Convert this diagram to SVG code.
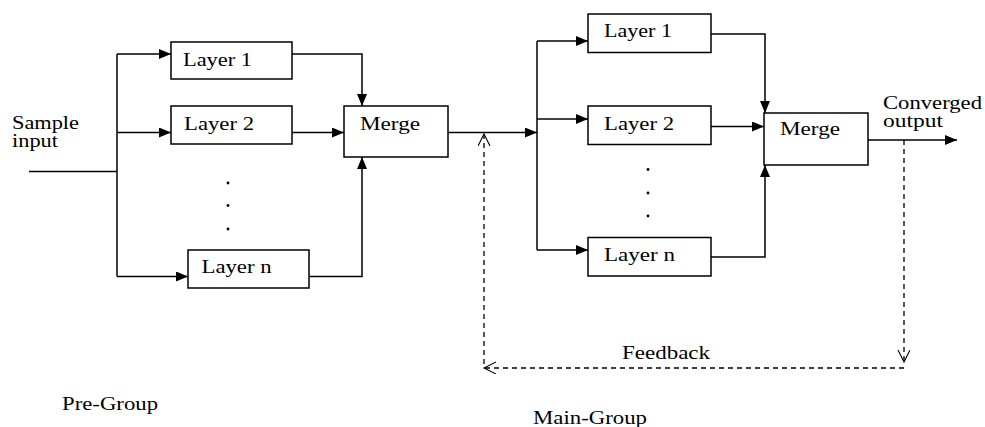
<svg xmlns="http://www.w3.org/2000/svg" width="985" height="427" viewBox="0 0 985 427">
<defs>
<marker id="fa" markerUnits="userSpaceOnUse" markerWidth="13" markerHeight="11" refX="12" refY="5" orient="auto">
<path d="M0,0 L12,5 L0,10 z" fill="#000"/>
</marker>
<marker id="oa" markerUnits="userSpaceOnUse" markerWidth="14" markerHeight="14" refX="12" refY="6" orient="auto">
<path d="M0,0 L12,6 L0,12" fill="none" stroke="#000" stroke-width="1.1"/>
</marker>
</defs>
<style>
.box{fill:#fff;stroke:#000;stroke-width:1.5}
.ln{fill:none;stroke:#000;stroke-width:1.5}
.dash{fill:none;stroke:#000;stroke-width:1.3;stroke-dasharray:5 4}
.t{font-family:"Liberation Serif","Times New Roman",serif;font-size:18px;fill:#000}
.dot{fill:#000}
</style>
<rect width="985" height="427" fill="#fff"/>
<g id="connectors">
<path class="ln" d="M29,171.5 H117"/>
<path class="ln" d="M117,54 V276.5"/>
<path class="ln" d="M117,54 H171" marker-end="url(#fa)"/>
<path class="ln" d="M117,132.5 H171" marker-end="url(#fa)"/>
<path class="ln" d="M117,276.5 H188" marker-end="url(#fa)"/>
<path class="ln" d="M292,54 H362 V106" marker-end="url(#fa)"/>
<path class="ln" d="M292,132.5 H344" marker-end="url(#fa)"/>
<path class="ln" d="M309,276.5 H362 V157" marker-end="url(#fa)"/>
<path class="ln" d="M448,132.5 H537" marker-end="url(#fa)"/>
<path class="ln" d="M537,41 V250"/>
<path class="ln" d="M537,41 H588" marker-end="url(#fa)"/>
<path class="ln" d="M537,119 H588" marker-end="url(#fa)"/>
<path class="ln" d="M537,250 H588" marker-end="url(#fa)"/>
<path class="ln" d="M711,34 H765 V113" marker-end="url(#fa)"/>
<path class="ln" d="M711,126.5 H764" marker-end="url(#fa)"/>
<path class="ln" d="M711,257 H765 V165" marker-end="url(#fa)"/>
<path class="ln" d="M868,140 H957" marker-end="url(#fa)"/>
<path class="dash" d="M904,140 V362" marker-end="url(#oa)"/>
<path class="dash" d="M904,368 H484" marker-end="url(#oa)"/>
<path class="dash" d="M484,364 V134" marker-end="url(#oa)"/>
</g>
<g id="pre-layer1"><rect class="box" x="171" y="42" width="121" height="37"/><text class="t" x="183" y="66" textLength="69" lengthAdjust="spacingAndGlyphs">Layer 1</text></g>
<g id="pre-layer2"><rect class="box" x="171" y="106" width="121" height="38"/><text class="t" x="184" y="129.5" textLength="70" lengthAdjust="spacingAndGlyphs">Layer 2</text></g>
<g id="pre-dots"><circle class="dot" cx="228" cy="183" r="1.4"/><circle class="dot" cx="228" cy="205.5" r="1.4"/><circle class="dot" cx="228" cy="229" r="1.4"/></g>
<g id="pre-layern"><rect class="box" x="188" y="250" width="121" height="38"/><text class="t" x="201.5" y="273" textLength="70" lengthAdjust="spacingAndGlyphs">Layer n</text></g>
<g id="pre-merge"><rect class="box" x="344" y="106" width="104" height="51"/><text class="t" x="360" y="129.5" textLength="60" lengthAdjust="spacingAndGlyphs">Merge</text></g>
<g id="main-layer1"><rect class="box" x="588" y="14" width="123" height="38.5"/><text class="t" x="604" y="37" textLength="68" lengthAdjust="spacingAndGlyphs">Layer 1</text></g>
<g id="main-layer2"><rect class="box" x="588" y="106" width="123" height="38.5"/><text class="t" x="604" y="130" textLength="70" lengthAdjust="spacingAndGlyphs">Layer 2</text></g>
<g id="main-dots"><circle class="dot" cx="648" cy="169.5" r="1.4"/><circle class="dot" cx="648" cy="193" r="1.4"/><circle class="dot" cx="648" cy="216" r="1.4"/></g>
<g id="main-layern"><rect class="box" x="588" y="237.5" width="123" height="38.5"/><text class="t" x="604" y="260.5" textLength="71" lengthAdjust="spacingAndGlyphs">Layer n</text></g>
<g id="main-merge"><rect class="box" x="764" y="113" width="104" height="52"/><text class="t" x="780" y="135" textLength="60" lengthAdjust="spacingAndGlyphs">Merge</text></g>
<g id="labels">
<text class="t" x="12" y="128.5" textLength="67" lengthAdjust="spacingAndGlyphs">Sample</text>
<text class="t" x="12" y="147" textLength="46" lengthAdjust="spacingAndGlyphs">input</text>
<text class="t" x="883" y="108.5" textLength="99" lengthAdjust="spacingAndGlyphs">Converged</text>
<text class="t" x="883" y="127" textLength="60" lengthAdjust="spacingAndGlyphs">output</text>
<text class="t" x="622" y="359" textLength="88" lengthAdjust="spacingAndGlyphs">Feedback</text>
<text class="t" x="62" y="410" textLength="96" lengthAdjust="spacingAndGlyphs">Pre-Group</text>
<text class="t" x="533" y="424" textLength="114" lengthAdjust="spacingAndGlyphs">Main-Group</text>
</g>
</svg>
